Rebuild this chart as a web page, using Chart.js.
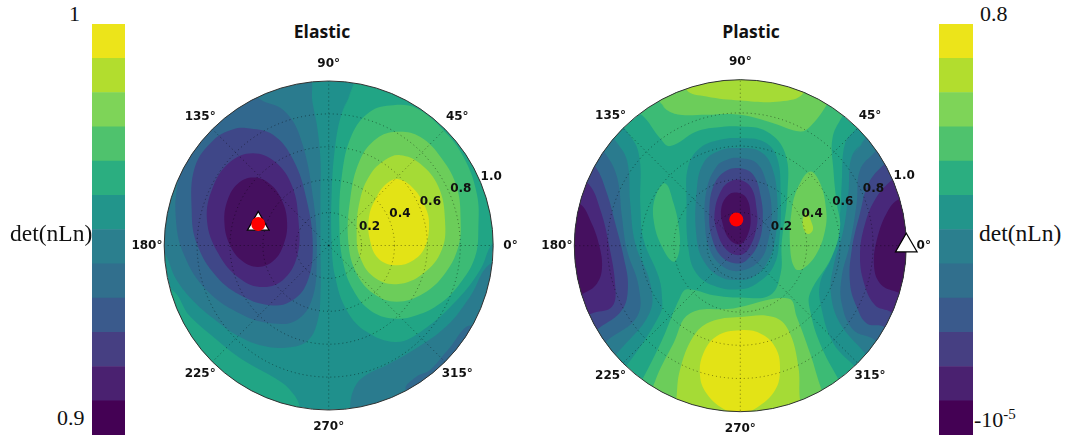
<!DOCTYPE html>
<html>
<head>
<meta charset="utf-8">
<title>Elastic / Plastic det(nLn)</title>
<script src="https://cdn.jsdelivr.net/npm/chart.js@4"></script>
<style>
  html, body { margin: 0; padding: 0; background: #fff; overflow: hidden; }
  body { width: 1065px; height: 439px; position: relative; }
  canvas { position: absolute; }
  .title { position: absolute; top: 19px; width: 120px; text-align: center; font: bold 17.5px "Open Sans", sans-serif; color: #111; }
  .cb { position: absolute; font: 22px "Liberation Serif", serif; color: #111; white-space: nowrap; line-height: 24px; }
  .cb sup { font-size: 15px; line-height: 0; }
</style>
</head>
<body>
<canvas id="bar-elastic"></canvas>
<canvas id="polar-elastic"></canvas>
<canvas id="polar-plastic"></canvas>
<canvas id="bar-plastic"></canvas>
<div class="title" style="left:262px">Elastic</div>
<div class="title" style="left:691px">Plastic</div>
<div class="cb" style="left:69px;top:2px">1</div>
<div class="cb" style="left:57px;top:406px">0.9</div>
<div class="cb" style="left:10px;top:221px;font-size:23.5px">det(nLn)</div>
<div class="cb" style="left:980px;top:2px">0.8</div>
<div class="cb" style="left:974px;top:408px">-10<sup>-5</sup></div>
<div class="cb" style="left:979px;top:221px;font-size:23.5px">det(nLn)</div>
<script>
// tick labels
const angleTicks = [0, 45, 90, 135, 180, 225, 270, 315];
const radiusTicks = [0.2, 0.4, 0.6, 0.8, 1.0];

// contour levels, low to high
const bandColors = ['#45105f', '#48287a', '#3f4788', '#31688e', '#2a7b8e', '#1f908c', '#21a585', '#3cbb75', '#6ccd5a', '#a5db36', '#e3e316'];
const colorbarColors = ['#440154', '#4a2170', '#463f82', '#3a5a8c', '#316f8d', '#2b7f8e', '#22958b', '#2bae80', '#4fc26d', '#7ed458', '#b2dd2e', '#ece41a'];
const colorbarSteps = [1, 1, 1, 1, 1, 1, 1, 1, 1, 1, 1, 1];

// markers: [angle in degrees, radius]
const elasticMarker = [163, 0.448];
const plasticRed = [98.7, 0.159];
const plasticTriangle = [0, 1.0];

// contour outlines, [x, y] in units of the outer radius
// Elastic
const eLowEdge = [[-0.12, 1.05], [-0.10, 0.88], [-0.07, 0.72], [-0.05, 0.52], [-0.05, 0.32], [-0.05, 0.01], [-0.05, -0.30], [-0.07, -0.47], [-0.13, -0.58], [-0.25, -0.62], [-0.40, -0.61], [-0.55, -0.55], [-0.68, -0.46], [-0.82, -0.34], [-0.93, -0.20], [-0.99, -0.06], [-1.1, 0.1], [-1.2, 0.5], [-0.8, 1.15], [-0.3, 1.2]];
const eBlue = [[-1.0, 0.7], [-0.8, 1.0], [-0.45, 1.0], [-0.43, 0.90], [-0.276, 0.823], [-0.174, 0.661], [-0.093, 0.276], [-0.073, -0.089], [-0.103, -0.332], [-0.195, -0.454], [-0.336, -0.474], [-0.519, -0.424], [-0.742, -0.272], [-0.883, -0.049], [-0.930, 0.174], [-0.914, 0.397], [-0.863, 0.539]];
const eIndigo = [[-0.478, 0.711], [-0.336, 0.671], [-0.215, 0.519], [-0.134, 0.276], [-0.097, -0.008], [-0.134, -0.231], [-0.235, -0.342], [-0.357, -0.363], [-0.519, -0.312], [-0.681, -0.190], [-0.802, 0.012], [-0.833, 0.215], [-0.813, 0.478], [-0.701, 0.640], [-0.580, 0.707]];
const ePurple = [[-0.184, 0.154], [-0.221, 0.357], [-0.324, 0.507], [-0.462, 0.561], [-0.600, 0.507], [-0.703, 0.357], [-0.740, 0.154], [-0.671, -0.049], [-0.543, -0.199], [-0.397, -0.253], [-0.267, -0.199], [-0.188, -0.049]];
const eDark = [[-0.253, 0.142], [-0.286, 0.278], [-0.361, 0.377], [-0.458, 0.413], [-0.551, 0.377], [-0.614, 0.278], [-0.634, 0.142], [-0.602, 0.006], [-0.527, -0.093], [-0.430, -0.130], [-0.336, -0.093], [-0.274, 0.006]];
const eLowCorner = [[0.13, -0.99], [0.15, -0.88], [0.21, -0.80], [0.353, -0.727], [0.515, -0.636], [0.717, -0.49], [0.858, -0.313], [0.99, -0.107], [1.2, -0.1], [1.1, -1.0], [0.13, -1.2]];
const eBlueCorner = [[0.47, -0.88], [0.53, -0.80], [0.616, -0.757], [0.72, -0.64], [0.875, -0.49], [1.1, -0.8], [0.7, -1.1]];
const eGreenCorner = [[-0.952, -0.27], [-0.861, -0.41], [-0.679, -0.574], [-0.521, -0.696], [-0.338, -0.80], [-0.235, -0.878], [-0.174, -0.988], [-0.17, -1.2], [-0.9, -1.2], [-1.2, -0.6], [-1.1, -0.25]];
const eTeal = [[0.15, 0.965], [0.079, 0.802], [0.039, 0.600], [0.018, 0.316], [0.018, 0.012], [0.039, -0.190], [0.109, -0.393], [0.231, -0.525], [0.413, -0.586], [0.574, -0.513], [0.78, -0.331], [0.92, -0.149], [1.0, 0.02], [1.2, 0.2], [1.1, 0.9], [0.6, 1.1], [0.2, 1.1]];
const eGreen = [[0.393, 0.853], [0.535, 0.833], [0.697, 0.701], [0.819, 0.539], [0.900, 0.316], [0.910, 0.113], [0.890, -0.069], [0.798, -0.231], [0.677, -0.353], [0.535, -0.424], [0.393, -0.444], [0.251, -0.393], [0.150, -0.272], [0.089, -0.109], [0.065, 0.113], [0.079, 0.417], [0.140, 0.671], [0.251, 0.813]];
const eLime = [[0.413, 0.691], [0.555, 0.661], [0.687, 0.529], [0.778, 0.357], [0.802, 0.154], [0.788, -0.008], [0.707, -0.170], [0.575, -0.292], [0.413, -0.342], [0.272, -0.292], [0.170, -0.170], [0.120, 0.012], [0.130, 0.276], [0.190, 0.519], [0.292, 0.650]];
const eYellowGreen = [[0.434, 0.549], [0.555, 0.498], [0.667, 0.357], [0.707, 0.154], [0.687, -0.028], [0.575, -0.170], [0.413, -0.235], [0.272, -0.190], [0.190, -0.069], [0.170, 0.073], [0.190, 0.276], [0.251, 0.428], [0.342, 0.519]];
const eYellow = [[0.424, 0.403], [0.515, 0.347], [0.586, 0.235], [0.610, 0.134], [0.586, -0.008], [0.515, -0.089], [0.403, -0.120], [0.302, -0.079], [0.251, 0.032], [0.245, 0.174], [0.292, 0.296], [0.353, 0.377]];

// Plastic
const pLeftTeal = [[-0.697, 0.707], [-0.612, 0.556], [-0.602, 0.235], [-0.582, 0.034], [-0.492, -0.187], [-0.472, -0.308], [-0.482, -0.408], [-0.683, -0.719], [-0.85, -0.9], [-1.3, 0], [-0.85, 0.9]];
const pLeftSteel = [[-0.757, 0.640], [-0.683, 0.516], [-0.663, 0.255], [-0.633, 0.014], [-0.542, -0.227], [-0.548, -0.408], [-0.743, -0.649], [-0.9, -0.85], [-1.3, 0], [-0.9, 0.85]];
const pLeftBlue = [[-0.813, 0.556], [-0.743, 0.415], [-0.713, 0.174], [-0.683, -0.026], [-0.612, -0.247], [-0.622, -0.428], [-0.803, -0.573], [-0.95, -0.72], [-1.3, 0], [-0.95, 0.72]];
const pLeftIndigo = [[-0.873, 0.476], [-0.803, 0.315], [-0.753, 0.134], [-0.703, -0.067], [-0.677, -0.247], [-0.713, -0.388], [-0.853, -0.498], [-1.0, -0.6], [-1.3, 0], [-1.0, 0.6]];
const pLeftPurple = [[-0.914, 0.371], [-0.843, 0.215], [-0.793, 0.014], [-0.753, -0.247], [-0.773, -0.368], [-0.883, -0.404], [-1.05, -0.45], [-1.25, 0], [-1.05, 0.45]];
const pLeftDark = [[-0.964, 0.249], [-0.904, 0.154], [-0.853, 0.014], [-0.833, -0.127], [-0.863, -0.227], [-0.944, -0.287], [-1.1, -0.35], [-1.25, 0], [-1.1, 0.3]];
const pRightTeal = [[0.701, 0.707], [0.631, 0.616], [0.611, 0.375], [0.601, 0.195], [0.551, -0.067], [0.480, -0.227], [0.491, -0.388], [0.561, -0.589], [0.691, -0.729], [0.85, -0.9], [1.3, 0], [0.85, 0.9]];
const pRightSteel = [[0.752, 0.640], [0.671, 0.536], [0.651, 0.315], [0.621, 0.094], [0.561, -0.127], [0.545, -0.287], [0.601, -0.468], [0.752, -0.649], [0.9, -0.85], [1.3, 0], [0.9, 0.85]];
const pRightBlue = [[0.812, 0.566], [0.721, 0.456], [0.701, 0.255], [0.661, 0.014], [0.611, -0.187], [0.611, -0.348], [0.681, -0.508], [0.812, -0.569], [0.95, -0.72], [1.3, 0], [0.95, 0.72]];
const pRightIndigo = [[0.862, 0.486], [0.772, 0.375], [0.721, 0.195], [0.671, -0.026], [0.661, -0.227], [0.701, -0.368], [0.762, -0.468], [0.866, -0.488], [1.0, -0.6], [1.3, 0], [1.0, 0.6]];
const pRightPurple = [[0.912, 0.395], [0.822, 0.295], [0.752, 0.134], [0.721, -0.067], [0.752, -0.247], [0.812, -0.358], [0.882, -0.388], [1.05, -0.45], [1.3, 0], [1.05, 0.5]];
const pRightDark = [[0.962, 0.285], [0.892, 0.215], [0.822, 0.034], [0.806, -0.127], [0.842, -0.227], [0.922, -0.271], [1.1, -0.3], [1.25, 0], [1.1, 0.33]];
const pGreen = [[-0.7, 0.85], [0, 1.2], [0.7, 0.9], [0.611, 0.773], [0.555, 0.646], [0.561, 0.456], [0.581, 0.255], [0.601, 0.114], [0.551, -0.067], [0.420, -0.287], [0.420, -0.388], [0.480, -0.589], [0.591, -0.805], [0.7, -1.0], [0, -1.25], [-0.7, -1.0], [-0.592, -0.809], [-0.472, -0.569], [-0.361, -0.307], [-0.321, -0.263], [-0.163, -0.298], [0, -0.312], [0.179, -0.298], [0.243, -0.167], [0.249, 0.014], [0.284, 0.316], [0.270, 0.557], [0.159, 0.688], [0, 0.718], [-0.143, 0.712], [-0.264, 0.688], [-0.422, 0.600], [-0.482, 0.646], [-0.592, 0.787]];
const pLeftIsland = [[-0.452, 0.375], [-0.402, 0.255], [-0.371, 0.114], [-0.367, -0.026], [-0.402, -0.097], [-0.472, -0.006], [-0.522, 0.154], [-0.512, 0.295]];
const pTopLime = [[-0.485, 0.869], [-0.445, 0.819], [-0.364, 0.789], [-0.203, 0.789], [0, 0.789], [0.199, 0.738], [0.360, 0.688], [0.421, 0.718], [0.521, 0.849], [0.6, 1.0], [0, 1.2], [-0.6, 1.0]];
const pTopYellowGreen = [[-0.324, 0.940], [-0.203, 0.899], [0, 0.875], [0.239, 0.869], [0.380, 0.920], [0.4, 1.1], [0, 1.2], [-0.35, 1.1]];
const pRightIsland = [[0.421, 0.447], [0.481, 0.376], [0.517, 0.215], [0.511, 0.095], [0.461, -0.046], [0.380, -0.137], [0.330, -0.137], [0.300, -0.006], [0.310, 0.215], [0.350, 0.356]];
const pRightSpot = [[0.400, 0.195], [0.431, 0.135], [0.437, 0.095], [0.410, 0.070], [0.384, 0.095], [0.376, 0.155]];
const pBottomLime = [[-0.515, -0.821], [-0.404, -0.590], [-0.304, -0.408], [-0.042, -0.378], [0.290, -0.318], [0.340, -0.429], [0.421, -0.650], [0.491, -0.871], [0.55, -1.0], [0, -1.25], [-0.55, -1.0]];
const pBottomYellowGreen = [[-0.384, -0.911], [-0.364, -0.750], [-0.284, -0.549], [-0.183, -0.459], [0, -0.429], [0.199, -0.429], [0.290, -0.509], [0.350, -0.730], [0.360, -0.932], [0.4, -1.1], [0, -1.25], [-0.4, -1.1]];
const pBottomYellow = [[0, -0.509], [0.129, -0.533], [0.215, -0.620], [0.239, -0.750], [0.209, -0.871], [0.099, -0.976], [0, -1.01], [-0.103, -0.982], [-0.203, -0.891], [-0.243, -0.781], [-0.223, -0.650], [-0.143, -0.545]];
const pRing1 = [[0, 0.648], [0.139, 0.628], [0.219, 0.537], [0.243, 0.316], [0.235, 0.034], [0.199, -0.127], [0.099, -0.227], [0, -0.262], [-0.143, -0.247], [-0.264, -0.167], [-0.314, -0.006], [-0.324, 0.276], [-0.314, 0.477], [-0.243, 0.588], [-0.123, 0.638]];
const pRing2 = [[0, 0.588], [0.119, 0.567], [0.189, 0.477], [0.223, 0.276], [0.209, 0.034], [0.159, -0.107], [0.078, -0.187], [0, -0.207], [-0.123, -0.187], [-0.223, -0.087], [-0.264, 0.054], [-0.264, 0.316], [-0.223, 0.497], [-0.123, 0.573]];
const pRing3 = [[0, 0.527], [0.099, 0.497], [0.159, 0.376], [0.189, 0.215], [0.169, 0.034], [0.119, -0.087], [0, -0.151], [-0.103, -0.127], [-0.183, -0.026], [-0.213, 0.135], [-0.203, 0.336], [-0.143, 0.477], [-0.072, 0.521]];
const pRing4 = [[0, 0.467], [0.078, 0.427], [0.123, 0.296], [0.135, 0.155], [0.109, 0.014], [0.038, -0.087], [-0.022, -0.107], [-0.113, -0.066], [-0.173, 0.054], [-0.187, 0.195], [-0.163, 0.356], [-0.093, 0.447]];
const pRing5 = [[0, 0.396], [0.068, 0.346], [0.099, 0.215], [0.099, 0.115], [0.058, -0.006], [0, -0.056], [-0.082, -0.026], [-0.143, 0.095], [-0.153, 0.215], [-0.113, 0.336], [-0.062, 0.386]];
const pRing6 = [[-0.022, 0.320], [0.038, 0.286], [0.062, 0.175], [0.048, 0.074], [0, 0.010], [-0.062, 0.034], [-0.107, 0.135], [-0.113, 0.235], [-0.072, 0.306]];

// paint order: [outline, band index]
const elasticLayers = [
  [eLowEdge, 4], [eBlue, 3], [eIndigo, 2], [ePurple, 1], [eDark, 0],
  [eLowCorner, 4], [eBlueCorner, 3], [eGreenCorner, 6],
  [eTeal, 6], [eGreen, 7], [eLime, 8], [eYellowGreen, 9], [eYellow, 10]
];
const plasticLayers = [
  [pLeftTeal, 5], [pLeftSteel, 4], [pLeftBlue, 3], [pLeftIndigo, 2], [pLeftPurple, 1], [pLeftDark, 0],
  [pRightTeal, 5], [pRightSteel, 4], [pRightBlue, 3], [pRightIndigo, 2], [pRightPurple, 1], [pRightDark, 0],
  [pGreen, 7], [pLeftIsland, 7], [pTopLime, 8], [pTopYellowGreen, 9], [pRightIsland, 8], [pRightSpot, 9],
  [pBottomLime, 8], [pBottomYellowGreen, 9], [pBottomYellow, 10],
  [pRing1, 5], [pRing2, 4], [pRing3, 3], [pRing4, 2], [pRing5, 1], [pRing6, 0]
];

const toXY = ([deg, r]) => ({ x: r * Math.cos(deg * Math.PI / 180), y: r * Math.sin(deg * Math.PI / 180) });

const createPolar = (canvasId, layers, baseBand, markers, cx, cy, radius) => {
  const canvas = document.getElementById(canvasId);
  const left = Math.round(cx - 200), top = 50, w = 400, h = 389;
  canvas.style.left = left + 'px';
  canvas.style.top = top + 'px';
  canvas.width = w;
  canvas.height = h;

  const contourSets = layers.slice().reverse().map(([outline, band]) => ({
    // wrap one point past each end so the spline has no kink where the outline closes
    data: [outline[outline.length - 1], ...outline, outline[0], outline[1]].map(([x, y]) => ({ x, y })),
    showLine: true,
    fill: 'shape',
    backgroundColor: bandColors[band],
    borderWidth: 0,
    pointRadius: 0,
    tension: 0.4,
    capBezierPoints: false
  }));

  const polarGrid = {
    id: 'polarGrid',
    beforeDatasetsDraw(chart) {
      const { ctx, scales: { x, y } } = chart;
      const c = { x: x.getPixelForValue(0), y: y.getPixelForValue(0) };
      ctx.save();
      ctx.beginPath();
      ctx.arc(c.x, c.y, x.getPixelForValue(1) - c.x, 0, Math.PI * 2);
      ctx.clip();
      ctx.fillStyle = bandColors[baseBand];
      ctx.fill();
    },
    afterDatasetDraw(chart, args) {
      if (args.index !== markers.length) return; // last contour painted, markers still to come
      const { ctx, scales: { x, y } } = chart;
      ctx.restore();
      const c = { x: x.getPixelForValue(0), y: y.getPixelForValue(0) };
      const unit = x.getPixelForValue(1) - c.x;

      ctx.save();
      ctx.strokeStyle = 'rgba(0,0,0,0.45)';
      ctx.lineWidth = 1;
      ctx.setLineDash([1, 3]);
      radiusTicks.slice(0, -1).forEach(r => {
        ctx.beginPath();
        ctx.arc(c.x, c.y, r * unit, 0, Math.PI * 2);
        ctx.stroke();
      });
      angleTicks.forEach(deg => {
        const p = toXY([deg, 1]);
        ctx.beginPath();
        ctx.moveTo(c.x, c.y);
        ctx.lineTo(x.getPixelForValue(p.x), y.getPixelForValue(p.y));
        ctx.stroke();
      });
      ctx.setLineDash([]);
      ctx.strokeStyle = '#333';
      ctx.beginPath();
      ctx.arc(c.x, c.y, unit, 0, Math.PI * 2);
      ctx.stroke();

      ctx.fillStyle = '#111';
      ctx.font = 'bold 12px "DejaVu Sans"';
      ctx.textAlign = 'center';
      ctx.textBaseline = 'middle';
      angleTicks.forEach(deg => {
        const p = toXY([deg, 1.105]);
        ctx.fillText(deg + '°', x.getPixelForValue(p.x), y.getPixelForValue(p.y));
      });
      radiusTicks.forEach(r => {
        const p = toXY([22.5, r]);
        ctx.fillText(r.toFixed(1), x.getPixelForValue(p.x) + 10.5, y.getPixelForValue(p.y) - 6);
      });
      ctx.restore();
    }
  };

  new Chart(canvas.getContext('2d'), {
    type: 'scatter',
    data: { datasets: markers.concat(contourSets) },
    options: {
      responsive: false,
      animation: false,
      events: [],
      layout: { padding: 0, autoPadding: false },
      plugins: { legend: { display: false }, tooltip: { enabled: false } },
      scales: {
        x: { display: false, min: (left - cx) / radius, max: (left + w - cx) / radius },
        y: { display: false, min: (cy - top - h) / radius, max: (cy - top) / radius }
      }
    },
    plugins: [polarGrid]
  });
};

const redDot = pos => ({
  data: [toXY(pos)], pointStyle: 'circle', pointRadius: 7, backgroundColor: '#f00', borderWidth: 0, clip: false
});
const whiteTriangle = pos => ({
  data: [toXY(pos)], pointStyle: 'triangle', pointRadius: 12.5, backgroundColor: '#fff', borderColor: '#000', borderWidth: 1.2, clip: false
});

const createColorbar = (canvasId, left, width) => {
  const canvas = document.getElementById(canvasId);
  canvas.style.left = left + 'px';
  canvas.style.top = '24px';
  canvas.width = width;
  canvas.height = 411;
  new Chart(canvas.getContext('2d'), {
    type: 'bar',
    data: {
      labels: ['det(nLn)'],
      datasets: colorbarSteps.map((step, i) => ({
        data: [step],
        backgroundColor: colorbarColors[i],
        borderWidth: 0,
        barPercentage: 1,
        categoryPercentage: 1
      }))
    },
    options: {
      responsive: false,
      animation: false,
      events: [],
      layout: { padding: 0, autoPadding: false },
      plugins: { legend: { display: false }, tooltip: { enabled: false } },
      scales: {
        x: { display: false, stacked: true },
        y: { display: false, stacked: true, min: 0, max: colorbarSteps.length }
      }
    }
  });
};

createColorbar('bar-elastic', 92, 33);
createColorbar('bar-plastic', 939, 34);
createPolar('polar-elastic', elasticLayers, 5, [redDot(elasticMarker), whiteTriangle(elasticMarker)], 328.7, 245.5, 164.5);
createPolar('polar-plastic', plasticLayers, 6, [redDot(plasticRed), whiteTriangle(plasticTriangle)], 740.3, 245.7, 166);
</script>
</body>
</html>
